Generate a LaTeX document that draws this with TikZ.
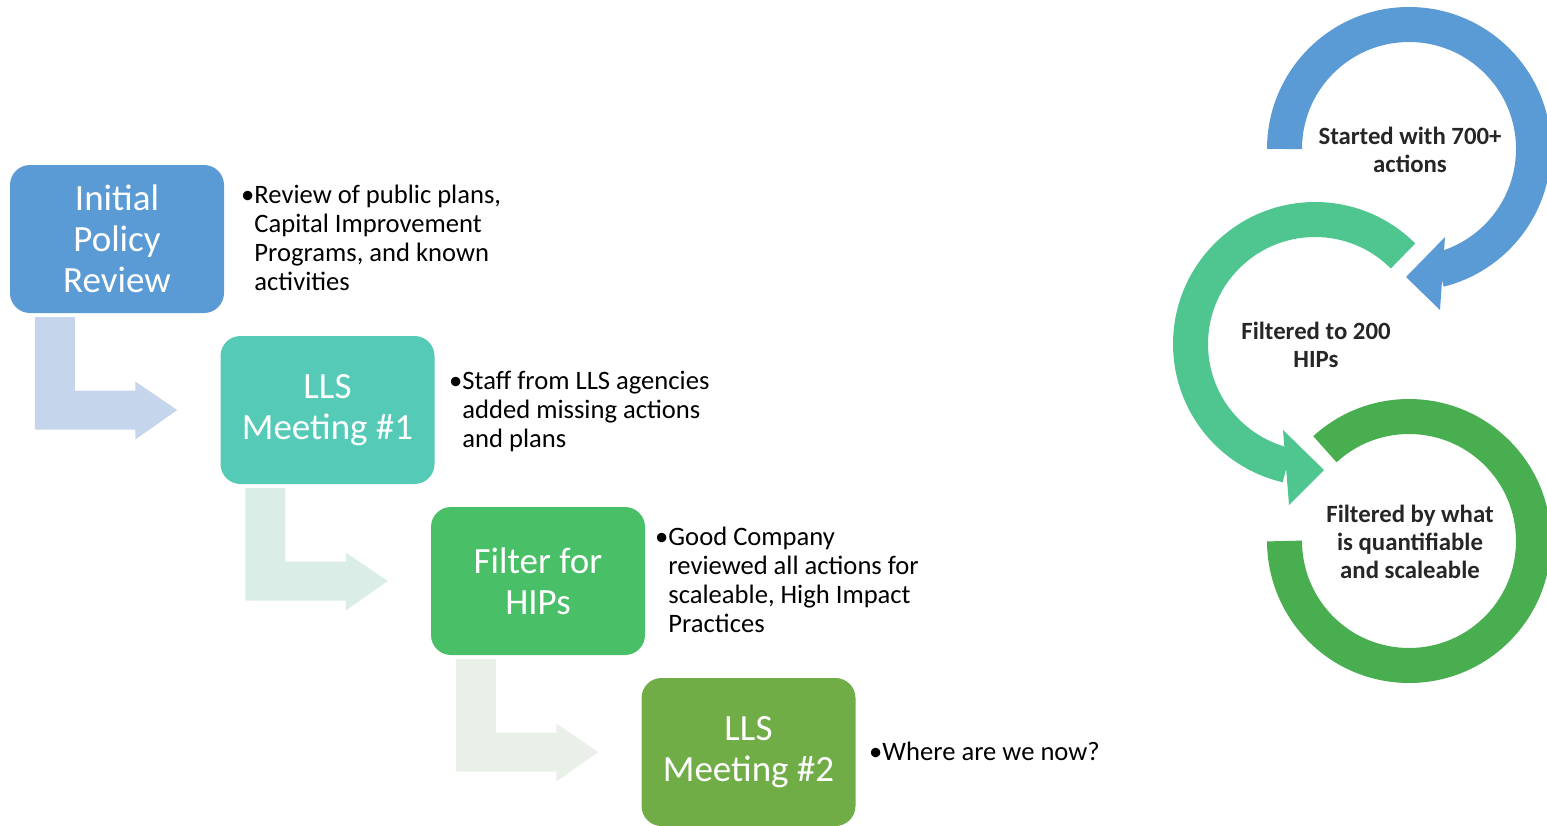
\documentclass[tikz,border=0pt]{standalone}
\usepackage{fontspec}
\setmainfont{Carlito}
\usepackage{tikz}
\usetikzlibrary{calc}
\definecolor{boxA}{HTML}{5B9BD5}
\definecolor{boxB}{HTML}{54CAB7}
\definecolor{boxC}{HTML}{49BF67}
\definecolor{boxD}{HTML}{70AD47}
\definecolor{bendA}{HTML}{C5D5EB}
\definecolor{bendB}{HTML}{DAEDE6}
\definecolor{bendC}{HTML}{E9F0E8}
\definecolor{ringA}{HTML}{5B9BD5}
\definecolor{ringB}{HTML}{4FC690}
\definecolor{ringC}{HTML}{48AE50}
\tikzset{stage/.style = {rounded corners=20pt, minimum width=214pt, minimum height=148pt,
                         inner sep=0pt, align=center, text=white,
                         font=\fontsize{37}{41}\selectfont}}
\tikzset{note/.style = {anchor=base west, inner sep=0pt, font=\fontsize{26.6}{29.3}\selectfont}}
\tikzset{ringtext/.style = {align=center, inner sep=0pt, text=black!85,
                            font=\bfseries\fontsize{24.8}{28}\selectfont}}
\tikzset{ring/.style = {line width=35pt}}

\begin{document}
\begin{tikzpicture}[x=1pt, y=-1pt]
                    \useasboundingbox (0,0) rectangle (1547,825);

                    \foreach \i/\lbl/\col in {1/{Initial\\Policy\\Review}/boxA,
                                              2/{LLS\\Meeting \#1}/boxB,
                                              3/{Filter for\\HIPs}/boxC,
                                              4/{LLS\\Meeting \#2}/boxD} {
                      \node[stage, fill=\col] (box\i) at ({117+210.5*(\i-1)}, {239+171*(\i-1)}) {\lbl};
                    }

                    % bent arrows between the steps
                    \foreach \i/\j/\col in {1/2/bendA, 2/3/bendB, 3/4/bendC} {
                      \coordinate (tip\j) at ($(box\j.west)+(-43,0)$);
                      \fill[\col] ($(box\i.south west)+(25,4)$) coordinate (s\i) -- ++(40,0)
                        |- ($(tip\j)+(-42,-19.5)$) -- ++(0,-9) -- (tip\j)
                        -- ($(tip\j)+(-42,29.5)$) -- ++(0,-10) coordinate (b\i) -- (s\i |- b\i) -- cycle;
                    }

                    \node[note] (noteA) at (241,203) {\begin{tabular}[t]{@{}l@{}l@{}}•&Review of public plans,\\&Capital Improvement\\&Programs, and known\\&activities\end{tabular}};
                    \node[note] (noteB) at (449,389) {\begin{tabular}[t]{@{}l@{}l@{}}•&Staff from LLS agencies\\&added missing actions\\&and plans\end{tabular}};
                    \node[note] (noteC) at (655,545) {\begin{tabular}[t]{@{}l@{}l@{}}•&Good Company\\&reviewed all actions for\\&scaleable, High Impact\\&Practices\end{tabular}};
                    \node[note] (noteD) at (869,760) {\begin{tabular}[t]{@{}l@{}l@{}}•&Where are we now?\end{tabular}};

                    % circular arrows
                    \node[ringtext] (ringA) at (1410,150) {Started with 700+\\actions};
                    \node[ringtext] (ringB) at (1316,345) {Filtered to 200\\HIPs};
                    \node[ringtext] (ringC) at (1410,542) {Filtered by what\\is quantifiable\\and scaleable};

                    \draw[ring, ringA] ($(ringA.center)+(-1,-1)+(180:124.5)$) arc[start angle=180, end angle=436, radius=124.5];
                    \fill[ringA] ($(ringA.center)+(35,87)$) -- ($(ringA.center)+(30,160)$) -- ($(ringA.center)+(-4,127)$) -- cycle;

                    \draw[ring, ringB] ($(ringB.center)+(-1,-1)+(-45:124.5)$) arc[start angle=-45, end angle=-257, radius=124.5];
                    \fill[ringB] ($(ringB.center)+(-33,85)$) -- ($(ringB.center)+(-27,160)$) -- ($(ringB.center)+(8,125)$) -- cycle;

                    \draw[ring, ringC] ($(ringC.center)+(-1,-1)+(-132.5:124.5)$) arc[start angle=-132.5, end angle=180, radius=124.5];
                  \end{tikzpicture}
\end{document}
